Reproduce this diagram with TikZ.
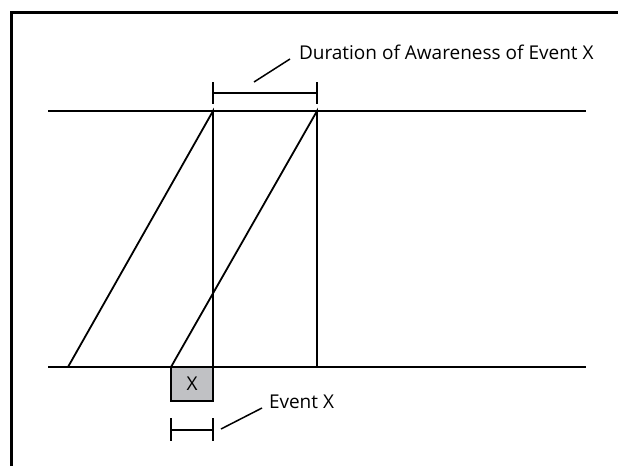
\documentclass[tikz,border=0pt]{standalone}
\usepackage{fontspec}
\setmainfont{Open Sans}
\usetikzlibrary{positioning}
\definecolor{EventGray}{HTML}{C0C1C4}

\begin{document}
\begin{tikzpicture}[x=1pt,y=-1pt,line width=1.8pt,every node/.style={font=\fontsize{19}{22}\selectfont,inner sep=0pt,outer sep=0pt}]
  \useasboundingbox (0,0) rectangle (618,466);
  % frame
  \draw[line width=3pt] (11,466) -- (11,12) -- (618,12);
  % time lines
  \coordinate (tl) at (48,111);
  \coordinate (tr) at (586,111);
  \coordinate (bl) at (48,367);
  \coordinate (br) at (586,367);
  \draw (tl) -- (tr);
  \draw (bl) -- (br);
  % event box
  \node[draw,fill=EventGray,minimum width=42pt,minimum height=34pt,anchor=north west] (ev) at (171,367) {X};
  % awareness
  \coordinate (a1) at (213,111);
  \coordinate (a2) at (317,111);
  \draw (68,367) -- (a1) -- (ev.north east);
  \draw (ev.north west) -- (a2) -- (317,367);
  % duration bracket
  \draw (213,82) -- (213,104) (213,93) -- (317,93) (317,82) -- (317,104);
  \node[anchor=west] (dur) at (299,52) {Duration of Awareness of Event X};
  \draw[line width=1.5pt] (254,82) -- (290,59);
  % event bracket
  \draw (171,418) -- (171,441) (171,430) -- (213,430) (213,418) -- (213,441);
  \node[anchor=west] (evx) at (269,402) {Event X};
  \draw[line width=1.5pt] (221,429) -- (262,408);
\end{tikzpicture}
\end{document}
